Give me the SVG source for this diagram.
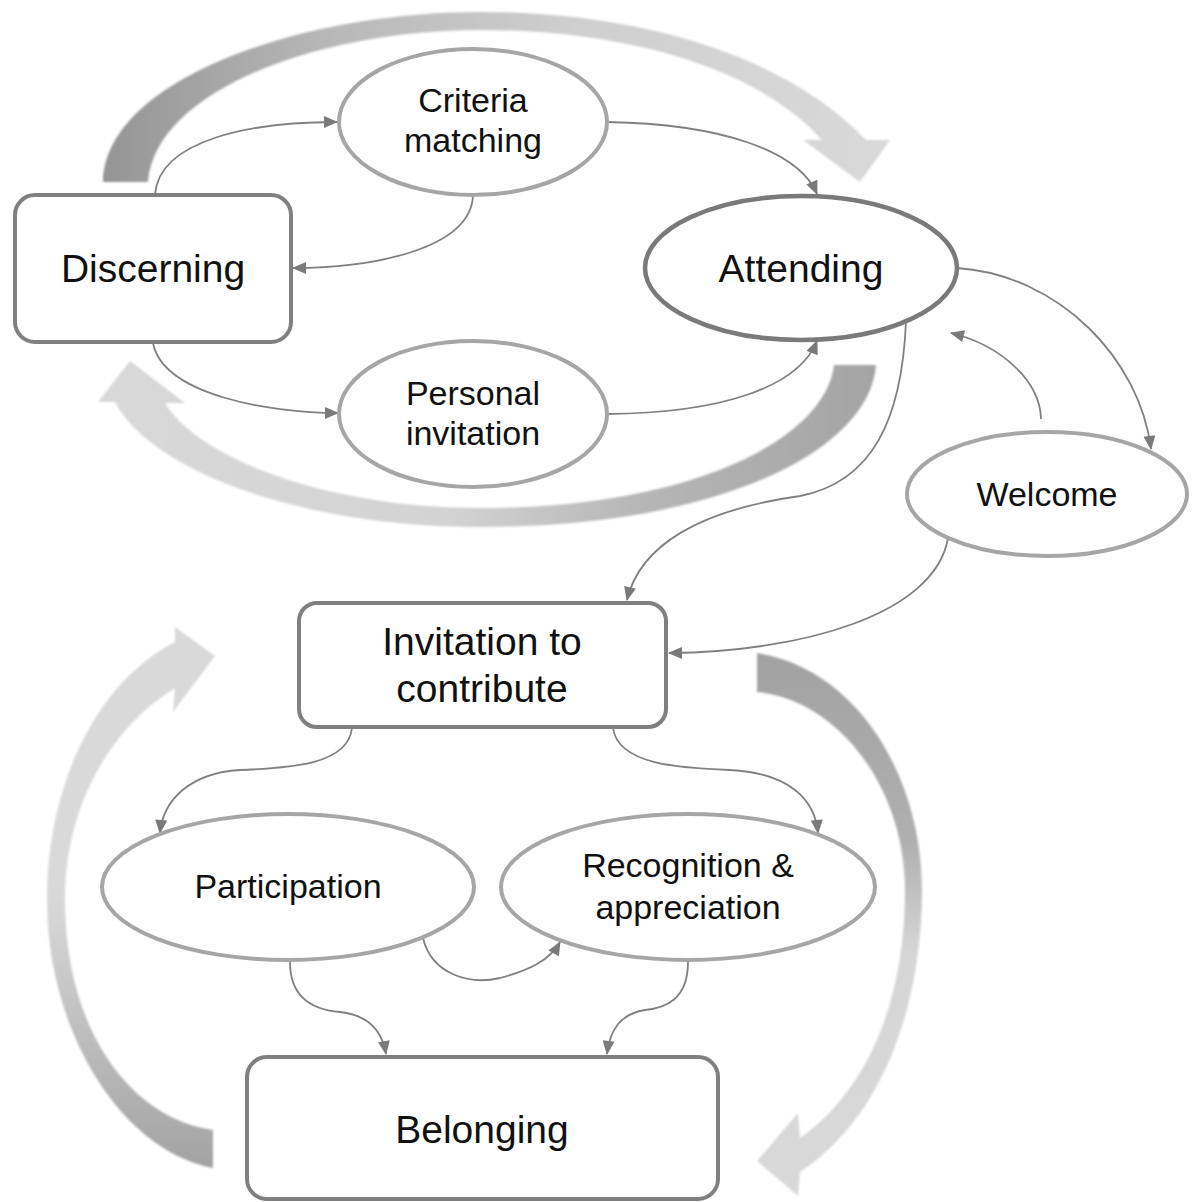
<svg xmlns="http://www.w3.org/2000/svg" width="1196" height="1202" viewBox="0 0 1196 1202">
<style>
.box{fill:#fff;stroke:#808080;stroke-width:4}
.att{fill:#fff;stroke:#7a7a7a;stroke-width:4.5}
.ell{fill:#fff;stroke:#a6a6a6;stroke-width:4}
.t{font-family:"Liberation Sans",Arial,sans-serif;fill:#111;text-anchor:middle}
.big{font-size:39px}
.mid{font-size:34px}
.c{fill:none;stroke:#808080;stroke-width:1.8}
</style>
<defs>
<marker id="ah" viewBox="0 0 14 12" refX="13" refY="6" markerWidth="15" markerHeight="12" markerUnits="userSpaceOnUse" orient="auto">
<path d="M0,0 L14,6 L0,12 Z" fill="#7a7a7a"/>
</marker>
<linearGradient id="gTop" gradientUnits="userSpaceOnUse" x1="103" y1="0" x2="890" y2="0">
<stop offset="0" stop-color="#959595"/><stop offset="0.3" stop-color="#b9b9b9"/><stop offset="0.6" stop-color="#cfcfcf"/><stop offset="1" stop-color="#d9d9d9"/>
</linearGradient>
<linearGradient id="gMid" gradientUnits="userSpaceOnUse" x1="876" y1="0" x2="98" y2="0">
<stop offset="0" stop-color="#a4a4a4"/><stop offset="0.3" stop-color="#b6b6b6"/><stop offset="0.55" stop-color="#d3d3d3"/><stop offset="1" stop-color="#d9d9d9"/>
</linearGradient>
<linearGradient id="gLeft" gradientUnits="userSpaceOnUse" x1="0" y1="627" x2="0" y2="1170">
<stop offset="0" stop-color="#d9d9d9"/><stop offset="0.5" stop-color="#d9d9d9"/><stop offset="1" stop-color="#a2a2a2"/>
</linearGradient>
<linearGradient id="gRight" gradientUnits="userSpaceOnUse" x1="0" y1="653" x2="0" y2="1196">
<stop offset="0" stop-color="#a2a2a2"/><stop offset="0.35" stop-color="#b0b0b0"/><stop offset="0.55" stop-color="#d6d6d6"/><stop offset="1" stop-color="#d9d9d9"/>
</linearGradient>
<filter id="soft" x="-5%" y="-5%" width="110%" height="110%"><feGaussianBlur stdDeviation="0.8"/></filter>
</defs>
<g id="cycle-arrows" filter="url(#soft)">
<path fill="url(#gTop)" d="M103,182 C105,80 300,12 480,12 C650,12 790,60 866,140 L890,140 L860,182 L803,140 L822,140 C760,70 630,30 480,30 C320,30 155,90 148,182 Z"/>
<path fill="url(#gMid)" d="M834,365 L876,365 C870,450 720,527 480,527 C300,527 150,470 115,402 L98,402 L130,361 L185,403 L165,403 C200,460 330,508 480,508 C690,508 825,440 834,365 Z"/>
<path fill="url(#gLeft)" d="M213,1168 C120,1150 47,1030 47,900 C47,780 100,680 175,642 L175,627 L215,656 L173,712 L175,688 C115,725 65,800 65,900 C65,1030 130,1118 213,1130 Z"/>
<path fill="url(#gRight)" d="M757,653 C860,670 922,780 922,890 C922,1010 880,1120 800,1172 L798,1196 L757,1161 L798,1113 L800,1138 C868,1090 905,1000 905,890 C905,790 840,700 757,692 Z"/>
</g>
<g id="connectors">
<path class="c" marker-end="url(#ah)" d="M155,194 C160,140 250,122 337,122"/>
<path class="c" marker-end="url(#ah)" d="M473,196 C470,250 370,268 293,268"/>
<path class="c" marker-end="url(#ah)" d="M607,122 C720,124 798,150 817,194"/>
<path class="c" marker-end="url(#ah)" d="M153,343 C163,395 270,413 338,413"/>
<path class="c" marker-end="url(#ah)" d="M607,414 C720,413 798,388 817,341"/>
<path class="c" marker-end="url(#ah)" d="M957,268 C1060,275 1140,360 1151,449"/>
<path class="c" marker-end="url(#ah)" d="M1041,419 C1040,380 1000,345 951,333"/>
<path class="c" marker-end="url(#ah)" d="M906,321 C902,420 872,482 800,496 C700,510 640,545 627,600"/>
<path class="c" marker-end="url(#ah)" d="M948,538 C935,615 800,652 669,653"/>
<path class="c" marker-end="url(#ah)" d="M352,728 C348,765 290,768 240,770 C190,773 163,800 160,833"/>
<path class="c" marker-end="url(#ah)" d="M613,728 C618,765 680,768 730,770 C790,773 815,800 818,833"/>
<path class="c" marker-end="url(#ah)" d="M423,938 C432,975 470,985 500,978 C530,970 550,960 560,942"/>
<path class="c" marker-end="url(#ah)" d="M290,962 C290,1000 315,1010 340,1012 C368,1015 382,1030 386,1054"/>
<path class="c" marker-end="url(#ah)" d="M688,962 C688,1000 665,1008 645,1010 C620,1014 610,1030 607,1054"/>
</g>
<g id="discerning">
<rect class="box" x="15" y="195" width="276" height="147" rx="20"/>
<text class="t big" x="153" y="282">Discerning</text>
</g>
<g id="criteria-matching">
<ellipse class="ell" cx="473" cy="122" rx="134" ry="73"/>
<text class="t mid" x="473" y="112">Criteria</text>
<text class="t mid" x="473" y="152">matching</text>
</g>
<g id="attending">
<ellipse class="att" cx="801" cy="268" rx="156" ry="72"/>
<text class="t big" x="801" y="282">Attending</text>
</g>
<g id="personal-invitation">
<ellipse class="ell" cx="473" cy="414" rx="134" ry="73"/>
<text class="t mid" x="473" y="405">Personal</text>
<text class="t mid" x="473" y="445">invitation</text>
</g>
<g id="welcome">
<ellipse class="ell" cx="1047" cy="494" rx="140" ry="62"/>
<text class="t mid" x="1047" y="506">Welcome</text>
</g>
<g id="invitation-to-contribute">
<rect class="box" x="299" y="603" width="367" height="124" rx="18"/>
<text class="t big" x="482" y="655">Invitation to</text>
<text class="t big" x="482" y="702">contribute</text>
</g>
<g id="participation">
<ellipse class="ell" cx="288" cy="887" rx="186" ry="73"/>
<text class="t mid" x="288" y="898">Participation</text>
</g>
<g id="recognition">
<ellipse class="ell" cx="688" cy="887" rx="187" ry="73"/>
<text class="t mid" x="688" y="877">Recognition &amp;</text>
<text class="t mid" x="688" y="919">appreciation</text>
</g>
<g id="belonging">
<rect class="box" x="247" y="1057" width="471" height="142" rx="20"/>
<text class="t big" x="482" y="1143">Belonging</text>
</g>
</svg>
